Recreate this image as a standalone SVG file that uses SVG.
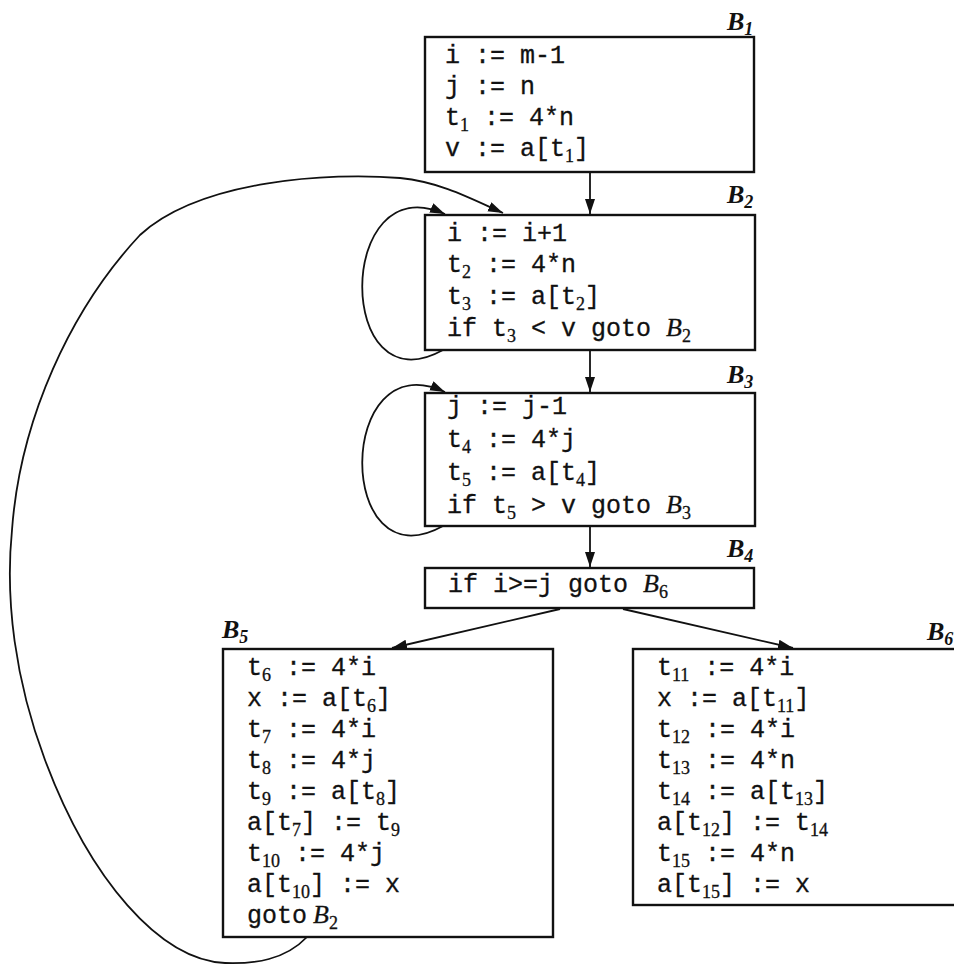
<svg xmlns="http://www.w3.org/2000/svg" width="954" height="973" viewBox="0 0 954 973" xml:space="preserve">
<style>
  .box { fill: #fff; stroke: #111; stroke-width: 2.4; }
  .c { font-family: "Liberation Mono", "DejaVu Sans Mono", monospace; font-size: 25px; fill: #111; white-space: pre; stroke: #111; stroke-width: 0.3; }
  .s { font-family: "Liberation Serif", serif; font-size: 18px; }
  .b { font-family: "Liberation Serif", serif; font-style: italic; font-size: 26px; }
  .lab { font-family: "Liberation Serif", serif; font-style: italic; font-weight: bold; font-size: 26px; fill: #111; }
  .ls { font-size: 18px; }
  .edge { fill: none; stroke: #111; stroke-width: 1.8; }
</style>
<defs>
  <marker id="arr" markerUnits="userSpaceOnUse" markerWidth="16" markerHeight="12" refX="15" refY="5" orient="auto">
    <path d="M0,0 L15,5 L0,10 z" fill="#111"/>
  </marker>
</defs>

<g id="connectors">
  <line class="edge" x1="590" y1="173" x2="590" y2="214" marker-end="url(#arr)"/>
  <line class="edge" x1="590" y1="351" x2="590" y2="392" marker-end="url(#arr)"/>
  <line class="edge" x1="590" y1="527" x2="590" y2="567" marker-end="url(#arr)"/>
  <line class="edge" x1="560" y1="609" x2="392" y2="648" marker-end="url(#arr)"/>
  <line class="edge" x1="623" y1="609" x2="793" y2="648" marker-end="url(#arr)"/>
  <path class="edge" d="M 443 350 C 335 410, 335 165, 445 214" marker-end="url(#arr)"/>
  <path class="edge" d="M 443 526 C 335 586, 335 341, 445 392" marker-end="url(#arr)"/>
  <path class="edge" d="M 307 937 C 285 960, 255 964, 225 963 C 160 960, 90 880, 45 760 C 15 680, 5 600, 12 530 C 20 420, 70 310, 140 235 C 200 180, 330 172, 400 178 C 440 182, 470 198, 503 213" marker-end="url(#arr)"/>
</g>

<g id="B1">
  <rect class="box" x="425" y="37" width="329" height="135"/>
  <text class="lab" x="727" y="30">B<tspan class="ls" dy="5">1</tspan></text>
  <text class="c" x="445" y="63">i := m-1</text>
  <text class="c" x="445" y="94">j := n</text>
  <text class="c" x="445" y="125">t<tspan class="s" dy="6">1</tspan><tspan dy="-6"> := 4*n</tspan></text>
  <text class="c" x="445" y="156">v := a[t<tspan class="s" dy="6">1</tspan><tspan dy="-6">]</tspan></text>
</g>

<g id="B2">
  <rect class="box" x="425" y="215" width="330" height="135"/>
  <text class="lab" x="727" y="203">B<tspan class="ls" dy="5">2</tspan></text>
  <text class="c" x="447" y="241">i := i+1</text>
  <text class="c" x="447" y="272">t<tspan class="s" dy="6">2</tspan><tspan dy="-6"> := 4*n</tspan></text>
  <text class="c" x="447" y="304">t<tspan class="s" dy="6">3</tspan><tspan dy="-6"> := a[t</tspan><tspan class="s" dy="6">2</tspan><tspan dy="-6">]</tspan></text>
  <text class="c" x="447" y="336">if t<tspan class="s" dy="6">3</tspan><tspan dy="-6"> &lt; v goto </tspan><tspan class="b">B</tspan><tspan class="s" dy="6">2</tspan></text>
</g>

<g id="B3">
  <rect class="box" x="425" y="393" width="330" height="133"/>
  <text class="lab" x="727" y="383">B<tspan class="ls" dy="5">3</tspan></text>
  <text class="c" x="447" y="414">j := j-1</text>
  <text class="c" x="447" y="447">t<tspan class="s" dy="6">4</tspan><tspan dy="-6"> := 4*j</tspan></text>
  <text class="c" x="447" y="480">t<tspan class="s" dy="6">5</tspan><tspan dy="-6"> := a[t</tspan><tspan class="s" dy="6">4</tspan><tspan dy="-6">]</tspan></text>
  <text class="c" x="447" y="513">if t<tspan class="s" dy="6">5</tspan><tspan dy="-6"> &gt; v goto </tspan><tspan class="b">B</tspan><tspan class="s" dy="6">3</tspan></text>
</g>

<g id="B4">
  <rect class="box" x="425" y="568" width="329" height="40"/>
  <text class="lab" x="727" y="557">B<tspan class="ls" dy="5">4</tspan></text>
  <text class="c" x="448" y="592">if i&gt;=j goto <tspan class="b">B</tspan><tspan class="s" dy="6">6</tspan></text>
</g>

<g id="B5">
  <rect class="box" x="223" y="649" width="330" height="288"/>
  <text class="lab" x="222" y="638">B<tspan class="ls" dy="5">5</tspan></text>
  <text class="c" x="247" y="675">t<tspan class="s" dy="6">6</tspan><tspan dy="-6"> := 4*i</tspan></text>
  <text class="c" x="247" y="706">x := a[t<tspan class="s" dy="6">6</tspan><tspan dy="-6">]</tspan></text>
  <text class="c" x="247" y="737">t<tspan class="s" dy="6">7</tspan><tspan dy="-6"> := 4*i</tspan></text>
  <text class="c" x="247" y="768">t<tspan class="s" dy="6">8</tspan><tspan dy="-6"> := 4*j</tspan></text>
  <text class="c" x="247" y="799">t<tspan class="s" dy="6">9</tspan><tspan dy="-6"> := a[t</tspan><tspan class="s" dy="6">8</tspan><tspan dy="-6">]</tspan></text>
  <text class="c" x="247" y="830">a[t<tspan class="s" dy="6">7</tspan><tspan dy="-6">] := t</tspan><tspan class="s" dy="6">9</tspan></text>
  <text class="c" x="247" y="861">t<tspan class="s" dy="6">10</tspan><tspan dy="-6"> := 4*j</tspan></text>
  <text class="c" x="247" y="892">a[t<tspan class="s" dy="6">10</tspan><tspan dy="-6">] := x</tspan></text>
  <text class="c" x="247" y="923">goto<tspan class="b" x="313">B</tspan><tspan class="s" dy="6">2</tspan></text>
</g>

<g id="B6">
  <rect class="box" x="633" y="649" width="340" height="256"/>
  <text class="lab" x="927" y="640">B<tspan class="ls" dy="5">6</tspan></text>
  <text class="c" x="657" y="675">t<tspan class="s" dy="6">11</tspan><tspan dy="-6"> := 4*i</tspan></text>
  <text class="c" x="657" y="706">x := a[t<tspan class="s" dy="6">11</tspan><tspan dy="-6">]</tspan></text>
  <text class="c" x="657" y="737">t<tspan class="s" dy="6">12</tspan><tspan dy="-6"> := 4*i</tspan></text>
  <text class="c" x="657" y="768">t<tspan class="s" dy="6">13</tspan><tspan dy="-6"> := 4*n</tspan></text>
  <text class="c" x="657" y="799">t<tspan class="s" dy="6">14</tspan><tspan dy="-6"> := a[t</tspan><tspan class="s" dy="6">13</tspan><tspan dy="-6">]</tspan></text>
  <text class="c" x="657" y="830">a[t<tspan class="s" dy="6">12</tspan><tspan dy="-6">] := t</tspan><tspan class="s" dy="6">14</tspan></text>
  <text class="c" x="657" y="861">t<tspan class="s" dy="6">15</tspan><tspan dy="-6"> := 4*n</tspan></text>
  <text class="c" x="657" y="892">a[t<tspan class="s" dy="6">15</tspan><tspan dy="-6">] := x</tspan></text>
</g>
</svg>
